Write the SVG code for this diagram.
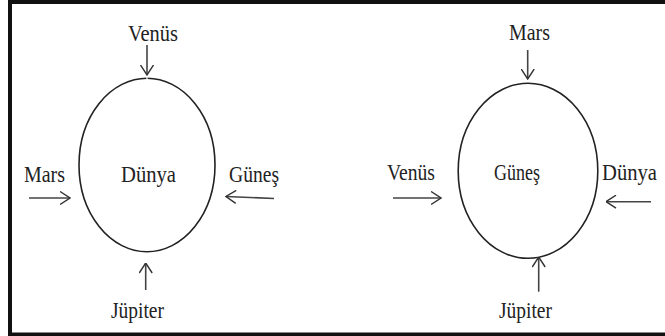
<svg xmlns="http://www.w3.org/2000/svg" width="665" height="336" viewBox="0 0 665 336">
<defs>
<marker id="ah" viewBox="0 0 11 14" markerWidth="11" markerHeight="14" refX="10.5" refY="7" orient="auto" markerUnits="userSpaceOnUse">
<path d="M0.5,0.5 L10.5,7 L0.5,13.5" fill="none" stroke="#333" stroke-width="1.4"/>
</marker>
</defs>
<style>
text{font-family:"Liberation Serif","Times New Roman",serif;font-size:24px;fill:#222}
.orb{fill:none;stroke:#222;stroke-width:1.6}
.arr{fill:none;stroke:#444;stroke-width:1.6;marker-end:url(#ah)}
</style>
<rect x="0" y="0" width="665" height="336" fill="#fff"/>
<rect x="10" y="2" width="660" height="332.5" fill="none" stroke="#111" stroke-width="4"/>

<g id="left-dunya">
<ellipse class="orb" cx="147" cy="165" rx="68" ry="86.7"/>
<line x1="147" y1="77" x2="147" y2="80" stroke="#fff" stroke-width="1.2"/>
<text x="121" y="182" textLength="55" lengthAdjust="spacingAndGlyphs">Dünya</text>
</g>
<g id="left-venus"><text x="128" y="41" textLength="50" lengthAdjust="spacingAndGlyphs">Venüs</text></g>
<g id="left-mars"><text x="24" y="182" textLength="41" lengthAdjust="spacingAndGlyphs">Mars</text></g>
<g id="left-gunes"><text x="229" y="182" textLength="50" lengthAdjust="spacingAndGlyphs">Güneş</text></g>
<g id="left-jupiter"><text x="111" y="318" textLength="53" lengthAdjust="spacingAndGlyphs">Jüpiter</text></g>

<g id="right-gunes">
<ellipse class="orb" cx="528" cy="170.8" rx="69.8" ry="87.5"/>
<text x="494" y="180" textLength="46" lengthAdjust="spacingAndGlyphs">Güneş</text>
</g>
<g id="right-mars"><text x="509" y="40" textLength="41" lengthAdjust="spacingAndGlyphs">Mars</text></g>
<g id="right-venus"><text x="387" y="180" textLength="48" lengthAdjust="spacingAndGlyphs">Venüs</text></g>
<g id="right-dunya"><text x="602" y="180" textLength="55" lengthAdjust="spacingAndGlyphs">Dünya</text></g>
<g id="right-jupiter"><text x="499" y="318" textLength="53" lengthAdjust="spacingAndGlyphs">Jüpiter</text></g>

<g id="connectors">
<line class="arr" x1="147" y1="45" x2="147" y2="75"/>
<line class="arr" x1="29" y1="198" x2="70" y2="198"/>
<line class="arr" x1="274" y1="198.5" x2="226" y2="196.5"/>
<line class="arr" x1="145.7" y1="290" x2="145.7" y2="263"/>
<line class="arr" x1="527.7" y1="50" x2="527.7" y2="79"/>
<line class="arr" x1="393" y1="198" x2="441" y2="198"/>
<line class="arr" x1="651" y1="201.7" x2="606" y2="201.7"/>
<line class="arr" x1="538.7" y1="291.7" x2="538.7" y2="257"/>
</g>
</svg>
